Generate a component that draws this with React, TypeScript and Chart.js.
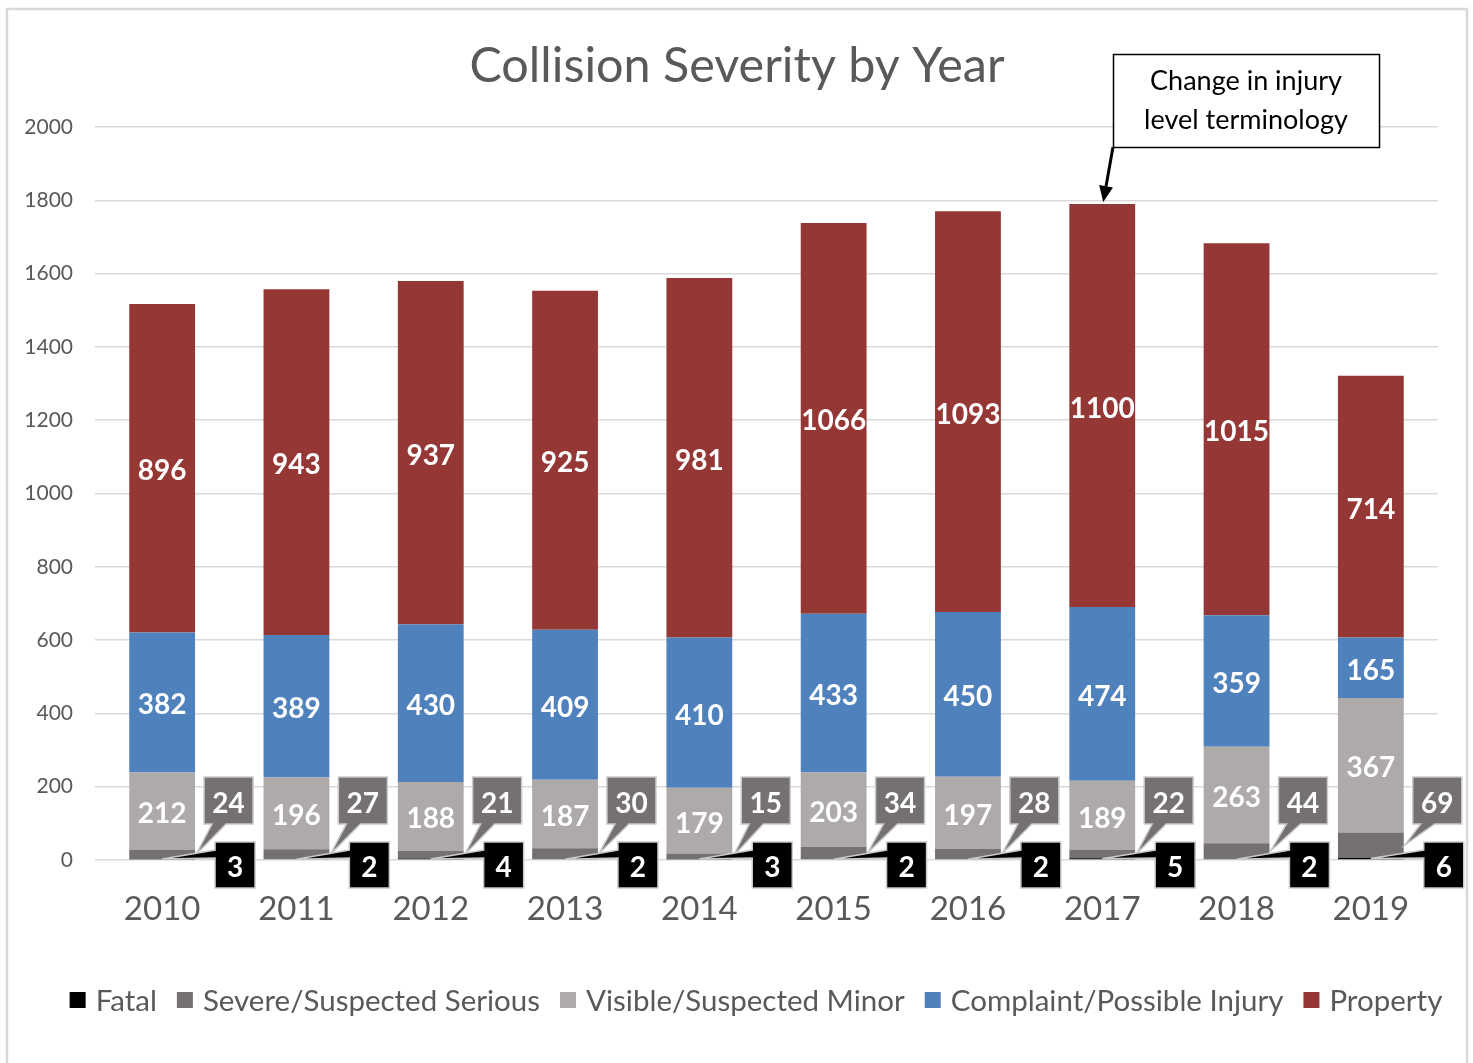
import React, { useEffect, useRef } from "react";
import { Chart, registerables } from "chart.js";

Chart.register(...registerables);

const years = ["2010", "2011", "2012", "2013", "2014", "2015", "2016", "2017", "2018", "2019"];
const fatal = [3, 2, 4, 2, 3, 2, 2, 5, 2, 6];
const severe = [24, 27, 21, 30, 15, 34, 28, 22, 44, 69];
const visible = [212, 196, 188, 187, 179, 203, 197, 189, 263, 367];
const complaint = [382, 389, 430, 409, 410, 433, 450, 474, 359, 165];
const property = [896, 943, 937, 925, 981, 1066, 1093, 1100, 1015, 714];
const seriesNames = ["Fatal", "Severe/Suspected Serious", "Visible/Suspected Minor", "Complaint/Possible Injury", "Property"];
const seriesColors = ["#000000", "#767171", "#AEAAAA", "#4F81BD", "#953735"];
const yMin = 0;
const yMax = 2000;
const yStep = 200;
const titleText = "Collision Severity by Year";
const noteLines = ["Change in injury", "level terminology"];
const noteYearIndex = 7;

const FONT = "Lato, 'Open Sans', sans-serif";

const overlayPlugin = {
  id: "overlay",
  beforeDraw(chart: any) {
    const ctx = chart.ctx;
    ctx.save();
    ctx.fillStyle = "#ffffff";
    ctx.fillRect(0, 0, chart.width, chart.height);
    ctx.strokeStyle = "#D9D9D9";
    ctx.lineWidth = 2.5;
    ctx.strokeRect(7, 9, 1460, 1070);
    ctx.restore();
  },
  afterDatasetsDraw(chart: any) {
    const ctx = chart.ctx;
    const yScale = chart.scales.y;
    const y0 = yScale.getPixelForValue(0);
    ctx.save();
    ctx.textAlign = "center";
    ctx.textBaseline = "middle";

    // inner labels for Visible, Complaint, Property
    [2, 3, 4].forEach((di) => {
      const meta = chart.getDatasetMeta(di);
      meta.data.forEach((el: any, i: number) => {
        const v = chart.data.datasets[di].data[i];
        const cy = (el.y + el.base) / 2;
        ctx.fillStyle = "#ffffff";
        ctx.font = `bold 28px ${FONT}`;
        ctx.fillText(String(v), el.x, cy + 3);
      });
    });

    // callouts
    const sevMeta = chart.getDatasetMeta(1);
    const fatMeta = chart.getDatasetMeta(0);
    sevMeta.data.forEach((el: any, i: number) => {
      const right = el.x + el.width / 2;
      const tipY = (el.y + el.base) / 2;
      const bx = right + 9, bw = 49, by = y0 - 83, bh = 47;
      ctx.beginPath();
      ctx.moveTo(bx, by);
      ctx.lineTo(bx + bw, by);
      ctx.lineTo(bx + bw, by + bh);
      ctx.lineTo(bx + 22, by + bh);
      ctx.lineTo(right + 1, tipY);
      ctx.lineTo(bx + 8, by + bh);
      ctx.lineTo(bx, by + bh);
      ctx.closePath();
      ctx.fillStyle = seriesColors[1];
      ctx.fill();
      ctx.strokeStyle = "#C9C9C9";
      ctx.lineWidth = 1.5;
      ctx.stroke();
      ctx.fillStyle = "#ffffff";
      ctx.font = `bold 28px ${FONT}`;
      ctx.fillText(String(severe[i]), bx + bw / 2, by + bh / 2 + 3);
    });
    fatMeta.data.forEach((el: any, i: number) => {
      const right = el.x + el.width / 2;
      const tipY = (el.y + el.base) / 2;
      const bx = right + 20, bw = 40, by = y0 - 18, bh = 46;
      ctx.beginPath();
      ctx.moveTo(bx, by);
      ctx.lineTo(bx + bw, by);
      ctx.lineTo(bx + bw, by + bh);
      ctx.lineTo(bx, by + bh);
      ctx.lineTo(bx, by + 16);
      ctx.lineTo(el.x, tipY);
      ctx.lineTo(bx, by + 8);
      ctx.closePath();
      ctx.fillStyle = "#000000";
      ctx.fill();
      ctx.strokeStyle = "#C9C9C9";
      ctx.lineWidth = 1.5;
      ctx.stroke();
      ctx.fillStyle = "#ffffff";
      ctx.font = `bold 28px ${FONT}`;
      ctx.fillText(String(fatal[i]), bx + bw / 2, by + bh / 2 + 3);
    });
    ctx.restore();
  },
  afterDraw(chart: any) {
    const ctx = chart.ctx;
    ctx.save();
    // title
    ctx.fillStyle = "#595959";
    ctx.font = `48.5px ${FONT}`;
    ctx.textAlign = "center";
    ctx.textBaseline = "middle";
    ctx.fillText(titleText, 737, 66);

    // note box
    ctx.fillStyle = "#ffffff";
    ctx.fillRect(1113, 54, 266, 93);
    ctx.strokeStyle = "#000000";
    ctx.lineWidth = 1.5;
    ctx.strokeRect(1113.5, 54.5, 266, 93);
    ctx.fillStyle = "#000000";
    ctx.font = `27px ${FONT}`;
    ctx.fillText(noteLines[0], 1246, 81);
    ctx.fillText(noteLines[1], 1246, 120);

    // arrow
    const propMeta = chart.getDatasetMeta(4);
    const bar = propMeta.data[noteYearIndex];
    const tipX = bar.x + 1;
    const tipY = bar.y - 2;
    const sx = 1113, sy = 147;
    const ang = Math.atan2(tipY - sy, tipX - sx);
    const headLen = 16, headW = 7;
    const bx = tipX - headLen * Math.cos(ang);
    const by = tipY - headLen * Math.sin(ang);
    ctx.strokeStyle = "#000000";
    ctx.lineWidth = 3;
    ctx.beginPath();
    ctx.moveTo(sx, sy);
    ctx.lineTo(bx, by);
    ctx.stroke();
    ctx.beginPath();
    ctx.moveTo(tipX, tipY);
    ctx.lineTo(bx + headW * Math.sin(ang), by - headW * Math.cos(ang));
    ctx.lineTo(bx - headW * Math.sin(ang), by + headW * Math.cos(ang));
    ctx.closePath();
    ctx.fillStyle = "#000000";
    ctx.fill();

    // legend
    ctx.font = `29.5px ${FONT}`;
    const box = 16, gapBoxText = 10, gapItems = 20;
    const widths = seriesNames.map((n) => ctx.measureText(n).width);
    const total = widths.reduce((a, w) => a + box + gapBoxText + w, 0) + gapItems * (seriesNames.length - 1);
    let x = 756 - total / 2;
    const ly = 1000;
    ctx.textAlign = "left";
    seriesNames.forEach((n, i) => {
      ctx.fillStyle = seriesColors[i];
      ctx.fillRect(x, ly - box / 2, box, box);
      x += box + gapBoxText;
      ctx.fillStyle = "#595959";
      ctx.fillText(n, x, ly + 1);
      x += widths[i] + gapItems;
    });
    ctx.restore();
  },
};

export default function App() {
  const ref = useRef<HTMLCanvasElement | null>(null);
  useEffect(() => {
    if (!ref.current) return;
    const data = [fatal, severe, visible, complaint, property];
    const chart = new Chart(ref.current, {
      type: "bar",
      data: {
        labels: years,
        datasets: data.map((d, i) => ({
          label: seriesNames[i],
          data: d,
          backgroundColor: seriesColors[i],
          borderWidth: 0,
          barPercentage: 0.7,
          categoryPercentage: 0.7,
        })),
      },
      options: {
        responsive: false,
        animation: false,
        devicePixelRatio: 1,
        layout: { padding: { left: 7, right: 35, top: 127, bottom: 0 } },
        plugins: {
          legend: { display: false },
          tooltip: { enabled: false },
          title: { display: false },
        },
        scales: {
          x: {
            stacked: true,
            grid: { display: false },
            border: { display: false },
            ticks: { color: "#595959", font: { family: FONT, size: 33 }, padding: 22 },
            afterFit: (s: any) => {
              s.height = 203;
              s.paddingLeft = 0;
              s.paddingRight = 0;
            },
          },
          y: {
            stacked: true,
            min: yMin,
            max: yMax,
            ticks: {
              stepSize: yStep,
              color: "#595959",
              font: { family: FONT, size: 21 },
              padding: 22,
              callback: (v: any) => String(v),
            },
            grid: { color: "#D9D9D9", lineWidth: 1.5, drawTicks: false },
            border: { display: false },
            afterFit: (s: any) => {
              s.width = 88;
              s.paddingTop = 0;
              s.paddingBottom = 0;
            },
          },
        },
      },
      plugins: [overlayPlugin],
    });
    return () => chart.destroy();
  }, []);
  return (
    <div style={{ position: "absolute", left: 0, top: 0, width: 1473, height: 1063, background: "#fff" }}>
      <canvas ref={ref} width={1473} height={1063} style={{ display: "block" }} />
    </div>
  );
}
